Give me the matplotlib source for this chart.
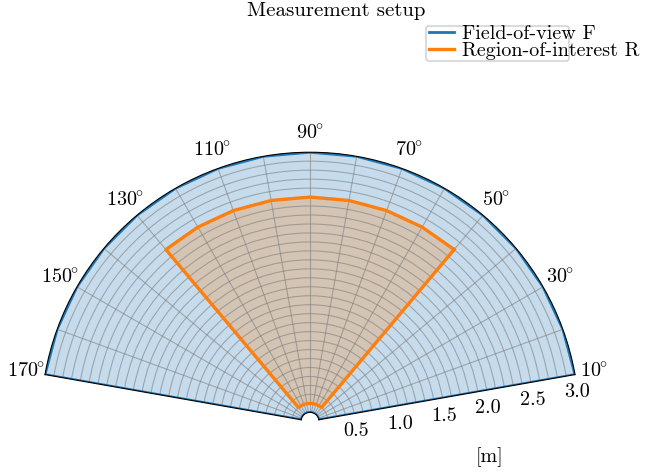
import numpy as np
import matplotlib
matplotlib.use("Agg")
import matplotlib.pyplot as plt
from matplotlib.patches import FancyBboxPatch
from matplotlib.transforms import IdentityTransform, ScaledTranslation

plt.rcParams['font.family'] = ['cmr10', 'DejaVu Serif']
plt.rcParams['mathtext.fontset'] = 'cm'
plt.rcParams['axes.unicode_minus'] = False
plt.rcParams['font.size'] = 14.5

# field of view (sector) and region of interest
fov_theta = [10, 20, 30, 40, 50, 60, 70, 80, 90, 100, 110, 120, 130, 140, 150, 160, 170]
fov_rmin = 0.1
fov_rmax = 3.0
roi_theta = [50, 60, 70, 80, 90, 100, 110, 120, 130]
roi_rmin = 0.2
roi_rmax = 2.5

theta_grid = [10, 20, 30, 40, 50, 60, 70, 80, 90, 100, 110, 120, 130, 140, 150, 160, 170]
theta_labels = ["10", "", "30", "", "50", "", "70", "", "90", "",
                "110", "", "130", "", "150", "", "170"]
r_grid = [0.1, 0.2, 0.3, 0.4, 0.5, 0.6, 0.7, 0.8, 0.9, 1.0, 1.1, 1.2, 1.3, 1.4, 1.5,
          1.6, 1.7, 1.8, 1.9, 2.0, 2.1, 2.2, 2.3, 2.4, 2.5, 2.6, 2.7, 2.8, 2.9, 3.0]
r_labels = ["0.5", "1.0", "1.5", "2.0", "2.5", "3.0"]


def sector(thetas, rmin, rmax):
    t = np.deg2rad(thetas)
    tt = np.concatenate([t, t[::-1], t[:1]])
    rr = np.concatenate([np.full(len(t), rmax), np.full(len(t), rmin), [rmax]])
    return tt, rr


fig = plt.figure(figsize=(6.49, 4.75), dpi=100)
# square box, the wedge is fitted inside it
ax = fig.add_axes([45 / 649, 1 - 551 / 475, 530 / 649, 530 / 475], projection='polar')

ft, fr = sector(fov_theta, fov_rmin, fov_rmax)
rt, rr = sector(roi_theta, roi_rmin, roi_rmax)
ax.fill(ft, fr, color='C0', alpha=0.25, lw=0)
ax.plot(ft, fr, color='C0', lw=2, label='Field-of-view F')
ax.fill(rt, rr, color='C1', alpha=0.25, lw=0)
ax.plot(rt, rr, color='C1', lw=2.4, label='Region-of-interest R')

ax.set_thetamin(10)
ax.set_thetamax(170)
ax.set_rorigin(0)
ax.set_rlim(fov_rmin, fov_rmax)
ax.set_thetagrids(theta_grid, [f'${t}\\hspace{{-0.1}}^{{\\circ}}$' if t else '' for t in theta_labels])
ax.set_rgrids(r_grid, [f"{v:.1f}" if f"{v:.1f}" in r_labels else "" for v in r_grid])
ax.tick_params(labelsize=14.5)
ax.tick_params(axis='y', pad=3)
# nudge r labels slightly to the right, as in the original
shift = ScaledTranslation(5 / 100, 0, fig.dpi_scale_trans)
for lbl in ax.get_yticklabels():
    lbl.set_transform(lbl.get_transform() + shift)
ax.grid(color='gray', alpha=0.6, lw=0.8)

fig.text(336 / 649, 1 - 11 / 475, 'Measurement setup', ha='center', va='center', fontsize=15)

# legend frame is narrower than its text in the original
frame = FancyBboxPatch((426, 475 - 61), 143, 35, boxstyle='round,pad=0,rounding_size=3',
                       transform=IdentityTransform(), facecolor='white', edgecolor='0.8',
                       lw=1, zorder=4)
fig.patches.append(frame)
fig.legend(loc='upper left', bbox_to_anchor=(426 / 649, 1 - 22 / 475), frameon=False,
           labelspacing=-0.05, borderpad=0.15, handlelength=1.25, handletextpad=0.4,
           borderaxespad=0, fontsize=14.5)
fig.text(490 / 649, 1 - 457 / 475, '[m]', ha='center', va='center', fontsize=14.5)

fig.savefig('out.png', dpi=100)
